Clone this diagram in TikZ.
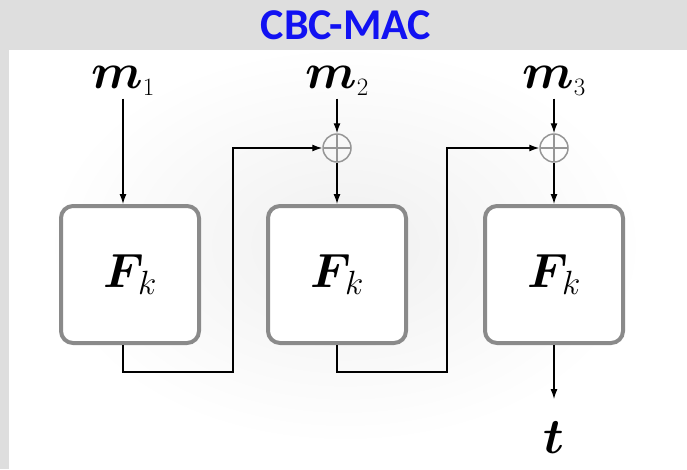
\RequirePackage{fix-cm}
\documentclass[tikz,border=0pt]{standalone}
\usepackage{amsmath}
\usepackage{fontspec}
\newfontfamily\titlefont{Carlito}
\usepackage{tikz}
\usetikzlibrary{arrows.meta, positioning, calc}
\definecolor{titleblue}{HTML}{1212F2}
\definecolor{boxgray}{HTML}{8A8A8A}
\definecolor{framegray}{HTML}{DEDEDE}
\tikzset{
	prf/.style={rectangle, rounded corners=12pt, minimum width=138pt, minimum height=137pt, draw=boxgray, line width=4pt, fill=white, font=\fontsize{48}{50}\selectfont},
	xorop/.style={circle, draw=boxgray!90, line width=1.5pt, minimum size=28pt, inner sep=0pt, path picture={\draw[boxgray!90, line width=1.5pt] (path picture bounding box.north) -- (path picture bounding box.south) (path picture bounding box.west) -- (path picture bounding box.east);}},
	msg/.style={inner sep=0pt, font=\fontsize{50}{52}\selectfont},
	titletext/.style={inner sep=0pt, text=titleblue, font=\titlefont\bfseries\fontsize{44}{46}\selectfont},
	arrow/.style={line width=1.3pt, -{Latex[length=10pt, width=7pt]}}
}
\begin{document}
\begin{tikzpicture}[x=1pt, y=-1pt]
		\useasboundingbox (0,0) rectangle (687,469);
		% Fondo
		\fill[framegray] (0,0) rectangle (687,469);
		\begin{scope}
			\clip (9,50) rectangle (687,469);
			\fill[white] (9,50) rectangle (687,469);
			\shade[inner color=black!6, outer color=white] (345,245) ellipse (300 and 200);
		\end{scope}
		\node (title) at (346,25) [titletext] {CBC-MAC};
		
		% Bloques F_k
		\node (box1) at (130,274.5) [prf] {$\boldsymbol{F}_{\!k}$};
		\node (box2) at (337,274.5) [prf] {$\boldsymbol{F}_{\!k}$};
		\node (box3) at (554,274.5) [prf] {$\boldsymbol{F}_{\!k}$};
		\node (xor2) at (337,148) [xorop] {};
		\node (xor3) at (554,148) [xorop] {};
		
		% Mensajes y etiqueta
		\node (m1) at (123,88) [msg, anchor=base] {$\boldsymbol{m}_{\scriptscriptstyle 1}$};
		\node (m2) at (337,88) [msg, anchor=base] {$\boldsymbol{m}_{\scriptscriptstyle 2}$};
		\node (m3) at (554,88) [msg, anchor=base] {$\boldsymbol{m}_{\scriptscriptstyle 3}$};
		\node (t) at (554,453) [msg, anchor=base] {$\boldsymbol{t}$};
		\coordinate (bend1) at (233,372);
		\coordinate (bend2) at (447,372);
		
		% Entradas
		\draw [arrow, shorten <=3pt] (m1.south) -- (m1 |- box1.north);
		\draw [arrow, shorten <=3pt] (m2.south) -- (xor2.north);
		\draw [arrow, shorten <=3pt] (m3.south) -- (xor3.north);
		\draw [arrow] (xor2.south) -- (box2.north);
		\draw [arrow] (xor3.south) -- (box3.north);
		
		% Encadenamiento
		\draw [arrow] (m1 |- box1.south) |- (bend1) |- (xor2.west);
		\draw [arrow] (box2.south) |- (bend2) |- (xor3.west);
		\draw [arrow, shorten >=22pt] (box3.south) -- (t.north);
	\end{tikzpicture}
\end{document}
